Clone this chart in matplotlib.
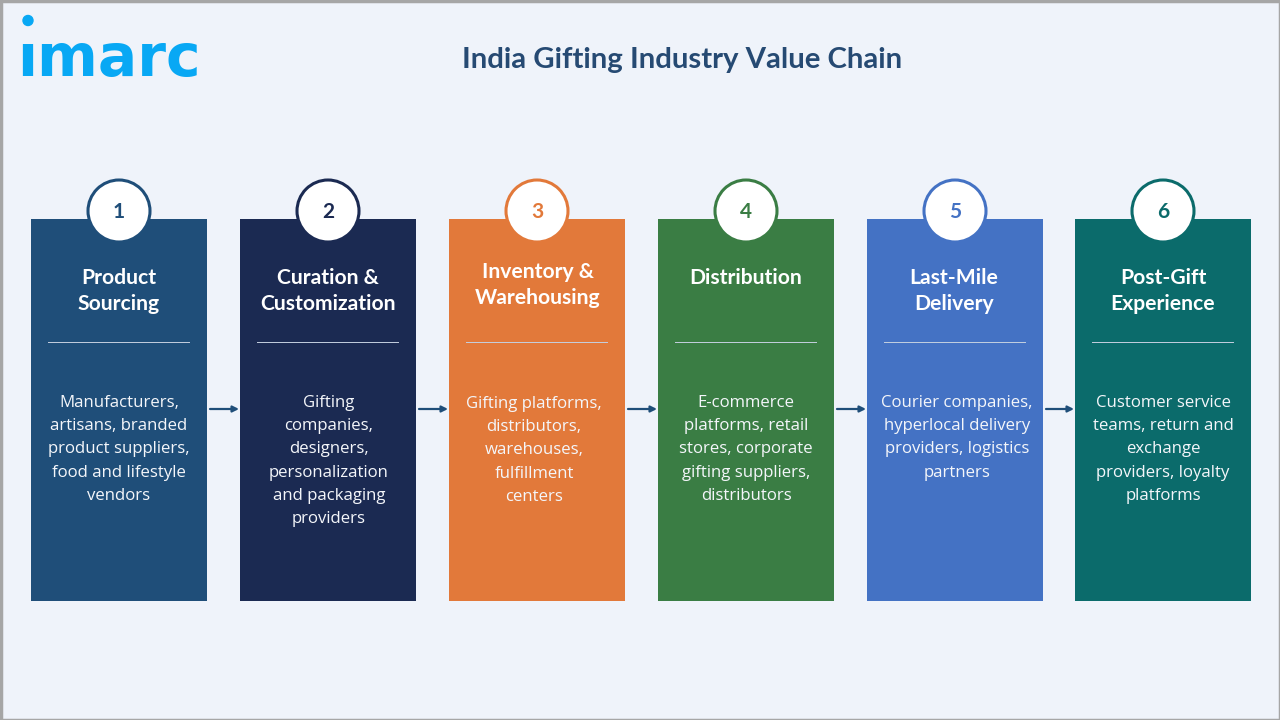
import matplotlib
matplotlib.use('Agg')
import matplotlib.pyplot as plt
from matplotlib.patches import Rectangle, Circle

titles = [['Product', 'Sourcing'], ['Curation &', 'Customization'], ['Inventory &', 'Warehousing'],
          ['Distribution'], ['Last-Mile', 'Delivery'], ['Post-Gift', 'Experience']]
descs = [['Manufacturers,', 'artisans, branded', 'product suppliers,', 'food and lifestyle', 'vendors'],
         ['Gifting', 'companies,', 'designers,', 'personalization', 'and packaging', 'providers'],
         ['Gifting platforms,', 'distributors,', 'warehouses,', 'fulfillment', 'centers'],
         ['E-commerce', 'platforms, retail', 'stores, corporate', 'gifting suppliers,', 'distributors'],
         ['Courier companies,', 'hyperlocal delivery', 'providers, logistics', 'partners'],
         ['Customer service', 'teams, return and', 'exchange', 'providers, loyalty', 'platforms']]
colors = ['#1F4E79', '#1B2A52', '#E2793A', '#3A7D44', '#4472C4', '#0B6B6B']
lefts = [31, 240, 449, 658, 867, 1075]
title_y = [277.5, 277.5, 271.5, 277.5, 277.5, 277.5]
title_dx = [0, 0, 1, 0, -1, 0]
desc_y = [402, 402, 403, 402, 402, 402]
desc_dx = [0, 1, -3, 0, 2, 0]

plt.rcParams['font.family'] = ['Open Sans', 'DejaVu Sans']

fig = plt.figure(figsize=(12.8, 7.2), dpi=100, facecolor='#EFF3FA')
ax = fig.add_axes([0, 0, 1, 1])
ax.set_xlim(0, 1280)
ax.set_ylim(720, 0)
ax.axis('off')

ax.add_patch(Rectangle((0.5, 0.5), 1279, 719, fill=False, ec='#A6A6A6', lw=2.5))

# logo, dotless i plus a separate dot so the gap matches
ax.text(17, 76, 'ımarc', fontsize=42, color='#08A8F4', fontweight='bold', va='baseline', ha='left', family='DejaVu Sans')
ax.add_patch(Circle((28, 20.5), 5, color='#08A8F4'))

ax.text(682, 60, 'India Gifting Industry Value Chain', fontsize=21.2, fontweight='bold',
        color='#264A73', ha='center', va='center', family='Lato')

for i in range(6):
    x = lefts[i]
    cx = x + 88
    ax.add_patch(Rectangle((x, 219), 176, 382, fc=colors[i], ec='none', zorder=2))
    ax.add_patch(Circle((cx, 211), 31, fc='white', ec=colors[i], lw=2.2, zorder=3))
    ax.text(cx, 212.5, str(i + 1), fontsize=15, fontweight='bold', color=colors[i], ha='center', va='center',
            zorder=4, family='Lato')
    for j, t in enumerate(titles[i]):
        ax.text(cx + title_dx[i], title_y[i] + j * 27, t, fontsize=15.2, fontweight='bold', color='white', ha='center',
                va='center', zorder=4, family='Lato')
    ax.plot([x + 17, x + 158], [342, 342], color='#C5D0E0', lw=0.7, zorder=4)
    for j, t in enumerate(descs[i]):
        ax.text(cx + desc_dx[i], desc_y[i] + 1 + j * 23.2, t, fontsize=12.1, color='#F4F6FA', ha='center', va='center', zorder=4)
    if i < 5:
        ax.annotate('', xy=(lefts[i + 1] - 1, 409), xytext=(x + 179, 409),
                    arrowprops=dict(arrowstyle='-|>', color='#1F4E79', lw=1.6, mutation_scale=9, shrinkA=0, shrinkB=0))

fig.savefig('out.png', dpi=100, facecolor=fig.get_facecolor())
